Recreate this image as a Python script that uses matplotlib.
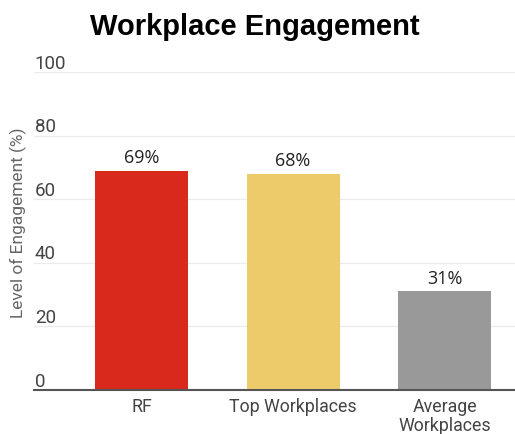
import matplotlib
matplotlib.use("Agg")
import matplotlib.pyplot as plt

title = "Workplace Engagement"
categories = ["RF", "Top Workplaces", "Average\nWorkplaces"]
values = [69, 68, 31]
value_labels = ["69%", "68%", "31%"]
colors = ["#D9291C", "#EDCA6A", "#999999"]
yticks = [0, 20, 40, 60, 80, 100]
ylabel = "Level of Engagement (%)"

plt.rcParams['font.family'] = ['Roboto', 'DejaVu Sans']

fig = plt.figure(figsize=(5.15, 4.34), dpi=100)
ax = fig.add_axes([34/515, 1-390/434, 1-34/515, (390-72)/434])

x = list(range(len(categories)))
ax.bar(x, values, width=0.614, color=colors, zorder=3)
for xi, v, lab in zip(x, values, value_labels):
    ax.annotate(lab, (xi, v), xytext=(0, 2.5), textcoords='offset points',
                ha='center', va='bottom', fontsize=13, color='#222222',
                family=['Open Sans', 'DejaVu Sans'])

ax.set_xlim(-0.71, 2.465)
ax.set_ylim(0, 100)
ax.set_yticks(yticks)
ax.set_yticklabels([])
for t in yticks:
    ax.axhline(t, color='#ebebeb', lw=1, zorder=1)
    ax.annotate(str(t), (0.0, t), xycoords=ax.get_yaxis_transform(),
                xytext=(0.5, -0.5), textcoords='offset points',
                ha='left', va='bottom', fontsize=13.5, color='#444444')
ax.tick_params(axis='y', length=0)
ax.set_xticks(x)
ax.set_xticklabels(categories, fontsize=12.8, color='#444444', linespacing=1.05)
ax.tick_params(axis='x', length=0, pad=6)
for s in ['top', 'right', 'left']:
    ax.spines[s].set_visible(False)
ax.spines['bottom'].set_color('#555555')
ax.spines['bottom'].set_linewidth(1.5)
ax.spines['bottom'].set_zorder(4)

fig.text(18/515, 1-223/434, ylabel, rotation=90, ha='center', va='center',
         fontsize=12.5, color='#666666')
fig.text(255/515, 1-27/434, title, ha='center', va='center', fontsize=21,
         fontweight='bold', family=['Liberation Sans', 'DejaVu Sans'], color='black')

fig.savefig("out.png", dpi=100)
